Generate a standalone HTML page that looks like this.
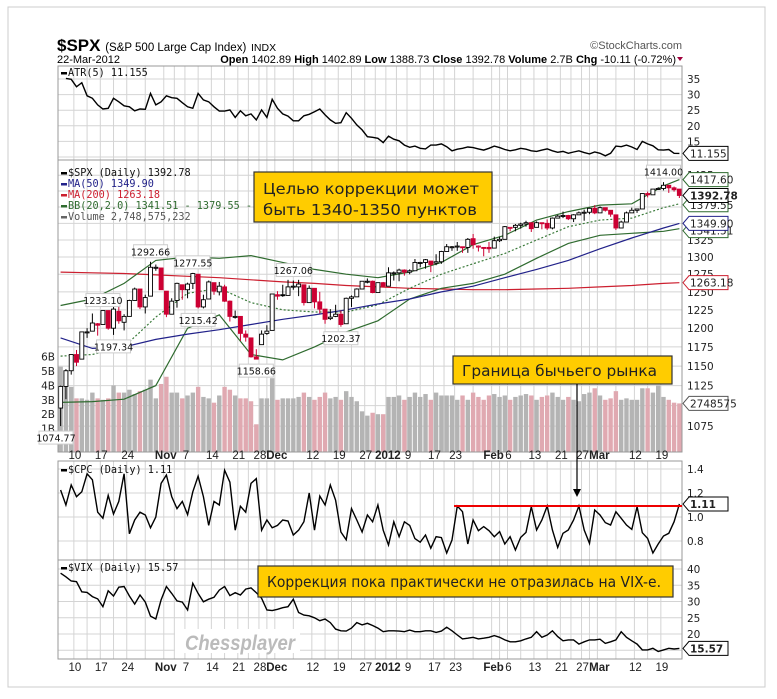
<!DOCTYPE html>
<html><head><meta charset="utf-8">
<style>
html,body{margin:0;padding:0;background:#fff;}
svg{display:block;}
.ax{font-family:"DejaVu Sans",sans-serif;font-size:10.5px;fill:#222;}
.dt{font-family:"Liberation Sans",sans-serif;font-size:11.5px;fill:#222;}
.lg{font-family:"DejaVu Sans Mono",monospace;font-size:10.2px;}
.hd{font-family:"Liberation Sans",sans-serif;}
.note{font-family:"DejaVu Sans","Liberation Sans",sans-serif;font-size:15.5px;fill:#222;}
.pk{font-family:"DejaVu Sans",sans-serif;font-size:9.5px;fill:#111;}
</style></head>
<body>
<svg id="chart" width="777" height="699" viewBox="0 0 777 699" xmlns="http://www.w3.org/2000/svg">
<rect x="8" y="7" width="757" height="680" fill="#fff" stroke="#ccc"/>
<g>
<text class="hd" x="57" y="51" font-size="17" font-weight="bold">$SPX <tspan font-size="11.5" font-weight="normal">(S&amp;P 500 Large Cap Index)</tspan> <tspan font-size="10.5" font-weight="normal">INDX</tspan></text>
<text class="hd" x="682" y="49" font-size="11" fill="#555" text-anchor="end">©StockCharts.com</text>
<text class="hd" x="57" y="63" font-size="11">22-Mar-2012</text>
<text class="hd" x="676" y="63" font-size="11" text-anchor="end"><tspan font-weight="bold">Open</tspan> 1402.89  <tspan font-weight="bold">High</tspan> 1402.89  <tspan font-weight="bold">Low</tspan> 1388.73  <tspan font-weight="bold">Close</tspan> 1392.78  <tspan font-weight="bold">Volume</tspan> 2.7B  <tspan font-weight="bold">Chg</tspan> -10.11 (-0.72%)</text>
<polygon points="677,57 683,57 680,61" fill="#a0003c"/>
</g>
<g id="grid"></g>
<g id="marks"></g>
<g id="labels"></g>
<g>
<rect x="254" y="172" width="238" height="50" fill="#ffcc00" stroke="#333" stroke-width="1.2"/>
<text class="note" x="263" y="194" textLength="216" lengthAdjust="spacingAndGlyphs">Целью коррекции может</text>
<text class="note" x="263" y="215" textLength="214" lengthAdjust="spacingAndGlyphs">быть 1340-1350 пунктов</text>
<rect x="453" y="356" width="219" height="28" fill="#ffcc00" stroke="#333" stroke-width="1.2"/>
<text class="note" x="462" y="376" textLength="195" lengthAdjust="spacingAndGlyphs">Граница бычьего рынка</text>
<line x1="577" y1="384" x2="577" y2="490" stroke="#000" stroke-width="1.2"/>
<polygon points="573,489 581,489 577,497" fill="#000"/>
<line x1="454" y1="506" x2="682" y2="506" stroke="#e00" stroke-width="2"/>
<rect x="258" y="566" width="415" height="31" fill="#ffcc00" stroke="#333" stroke-width="1.2"/>
<text class="note" x="267" y="587" textLength="394" lengthAdjust="spacingAndGlyphs">Коррекция пока практически не отразилась на VIX-е.</text>
<rect x="175" y="629" width="125" height="24" fill="#fff"/>
<text x="185" y="650" font-family="Liberation Sans,sans-serif" font-size="21" font-weight="bold" font-style="italic" fill="#bbb" textLength="110" lengthAdjust="spacingAndGlyphs">Chessplayer</text>
</g>
</svg>
<script>
// ---------- data ----------
const tickIdx = [3,8,13,20,24,29,34,38,41,48,53,58,62,66,71,75,82,85,90,95,99,102,109,114];
const tickLabels = ["10","17","24","Nov","7","14","21","28","Dec","12","19","27","2012","9","17","23","Feb","6","13","21","27","Mar","12","19"];
const tickBold = [0,0,0,1,0,0,0,0,1,0,0,0,1,0,0,0,1,0,0,0,0,1,0,0];
const opens = [1097,1124,1144,1165,1159,1194,1196,1206,1205,1224,1200,1223,1208,1216,1238,1254,1229,1244,1284,1284,1251,1219,1238,1260,1253,1262,1275,1229,1240,1263,1250,1257,1237,1216,1216,1192,1187,1162,1178,1193,1197,1246,1246,1245,1257,1257,1260,1235,1255,1236,1226,1213,1216,1219,1206,1241,1243,1254,1265,1265,1249,1263,1258,1277,1277,1281,1278,1280,1292,1292,1294,1291,1293,1308,1315,1315,1315,1314,1327,1316,1314,1314,1313,1324,1326,1344,1344,1347,1349,1351,1344,1351,1350,1343,1358,1361,1362,1357,1363,1366,1367,1373,1366,1374,1370,1363,1343,1352,1366,1370,1372,1396,1394,1403,1404,1409,1405,1403];
const highs = [1125,1146,1165,1171,1195,1200,1220,1207,1224,1224,1233,1229,1219,1239,1256,1254,1246,1293,1289,1284,1251,1241,1263,1260,1263,1277,1275,1246,1266,1263,1264,1260,1238,1224,1216,1197,1187,1172,1197,1204,1247,1251,1260,1267,1266,1267,1260,1259,1255,1250,1226,1226,1232,1224,1242,1245,1255,1265,1269,1266,1263,1264,1285,1279,1283,1282,1282,1297,1293,1297,1294,1304,1309,1319,1316,1322,1315,1328,1334,1317,1314,1322,1330,1330,1346,1344,1349,1351,1354,1351,1353,1351,1356,1359,1363,1368,1363,1364,1368,1371,1374,1378,1376,1374,1370,1363,1354,1368,1374,1372,1396,1399,1403,1406,1414,1409,1407,1403];
const lows = [1075,1108,1139,1150,1159,1187,1196,1190,1205,1198,1191,1206,1197,1216,1238,1226,1220,1244,1280,1253,1215,1219,1228,1239,1241,1254,1227,1227,1240,1246,1245,1236,1209,1213,1183,1182,1161,1159,1178,1191,1197,1239,1243,1245,1253,1244,1231,1235,1227,1220,1206,1211,1215,1202,1206,1229,1243,1254,1262,1248,1249,1257,1258,1266,1265,1273,1275,1280,1285,1283,1278,1288,1290,1308,1309,1309,1306,1306,1312,1308,1301,1306,1313,1322,1326,1338,1338,1342,1345,1337,1344,1341,1340,1341,1358,1358,1355,1352,1363,1354,1364,1364,1366,1368,1360,1340,1343,1352,1366,1366,1372,1390,1394,1402,1401,1397,1399,1389];
const closes = [1124,1144,1165,1155,1195,1195,1207,1204,1224,1200,1226,1210,1216,1238,1254,1229,1242,1285,1285,1253,1219,1237,1262,1253,1261,1276,1229,1239,1264,1251,1258,1237,1216,1216,1193,1188,1162,1159,1192,1196,1247,1244,1245,1257,1258,1261,1235,1255,1236,1226,1212,1215,1219,1205,1241,1243,1254,1265,1265,1249,1263,1258,1277,1277,1281,1278,1280,1292,1292,1296,1289,1293,1308,1315,1315,1316,1314,1326,1318,1316,1313,1312,1324,1326,1345,1344,1347,1349,1351,1342,1351,1350,1343,1358,1361,1362,1357,1363,1366,1367,1373,1366,1374,1370,1364,1343,1352,1366,1370,1372,1396,1394,1403,1404,1409,1405,1402,1393];
const volumes = [5.3,4.0,3.9,3.1,3.1,3.0,3.5,3.1,3.0,3.1,4.0,3.5,3.5,3.7,3.4,3.6,3.7,4.4,3.1,4.1,4.6,3.5,3.5,3.1,3.3,3.5,3.9,3.2,3.1,2.8,3.3,3.9,3.7,3.3,3.1,3.1,2.9,1.3,3.1,3.1,4.5,3.0,3.1,3.1,3.1,3.2,3.5,3.2,3.0,3.2,3.5,3.1,3.2,3.0,3.6,3.2,2.9,2.2,1.9,2.1,2.0,2.0,3.2,3.2,3.3,3.0,3.2,3.5,3.2,3.4,3.0,3.5,3.3,3.3,3.3,3.0,3.3,3.0,3.5,3.2,3.0,3.3,3.4,3.2,3.3,3.0,3.2,3.3,3.4,3.3,3.0,3.2,3.3,3.5,3.2,3.0,3.2,3.0,2.9,3.4,3.5,3.8,3.3,3.0,3.1,3.6,3.0,3.1,3.0,3.0,3.8,3.8,3.5,4.0,3.2,3.0,2.8,2.75];
const ovIdx = [0,6,12,18,24,30,36,42,48,54,60,66,72,78,84,90,96,102,108,114,117];
const ma50 = [1187,1173,1175,1185,1192,1198,1205,1212,1218,1225,1233,1240,1250,1258,1270,1282,1295,1312,1328,1343,1350];
const ma200 = [1278,1277,1276,1274,1272,1270,1267,1264,1262,1259,1257,1255,1254,1253,1253,1254,1255,1257,1259,1262,1263];
const bbUp = [1231,1240,1262,1295,1300,1298,1302,1292,1282,1275,1270,1278,1292,1318,1332,1355,1368,1378,1380,1408,1418];
const bbMid = [1163,1165,1175,1215,1248,1255,1235,1225,1222,1222,1232,1255,1275,1290,1305,1325,1345,1355,1358,1374,1380];
const bbLow = [1104,1105,1108,1125,1200,1218,1165,1158,1175,1195,1210,1240,1255,1262,1275,1298,1320,1332,1335,1338,1342];
const atr = [null,35.2,34.9,32.5,33.8,29.6,28.8,26.7,25.4,25.6,28.8,27.7,26.4,26.1,24.8,25.4,25.3,30.4,26.7,27.7,29.6,29.0,28.8,27.4,26.1,25.6,30.4,28.3,27.7,26.1,24.7,24.7,25.1,22.7,24.8,23.2,23.8,21.9,25.1,22.7,28.5,25.6,23.8,23.1,21.6,21.6,23.2,23.7,24.5,25.4,23.5,21.9,20.8,21.0,24.2,22.4,20.3,18.7,16.5,16.3,16.0,14.6,16.7,15.7,15.2,13.8,13.1,13.5,12.8,12.6,13.8,13.8,14.2,13.3,12.0,12.5,12.8,13.2,13.0,12.6,12.2,12.8,13.5,13.0,12.4,12.0,12.3,12.8,12.5,12.0,11.8,12.2,12.6,12.0,11.5,11.8,11.2,11.6,12.0,11.4,11.0,11.6,11.2,10.4,11.2,13.5,13.3,13.8,13.2,12.4,15.0,14.2,13.6,12.3,12.2,12.4,11.2,11.155];
const cpc = [1.225,1.10,1.267,1.169,1.21,1.36,1.31,1.04,0.99,1.18,1.025,1.13,1.36,0.86,0.975,1.04,1.017,0.91,1.0,1.28,1.35,1.17,1.07,1.13,1.02,1.21,1.34,1.17,0.93,1.13,1.10,1.39,1.29,0.89,1.09,1.04,1.28,1.32,0.89,0.975,0.91,0.93,0.975,0.967,0.85,0.89,0.96,1.2,0.89,1.175,1.10,1.267,1.14,0.875,0.81,1.07,0.975,0.875,1.017,0.96,1.10,0.89,0.767,0.96,0.836,0.96,0.93,0.82,0.79,0.85,0.74,0.836,0.828,0.70,0.808,1.092,1.044,0.775,0.975,0.886,0.92,0.886,0.836,0.878,0.775,0.836,0.725,0.83,0.872,1.086,0.892,0.975,1.092,0.892,0.747,0.864,0.892,0.975,1.092,0.892,0.78,1.058,1.017,0.953,0.933,1.044,0.989,0.933,0.897,1.086,0.869,0.822,0.70,0.775,0.842,0.864,0.961,1.108];
const vix = [38.7,37.6,36.3,36.1,33.0,32.8,31.5,30.8,28.4,33.3,31.7,34.4,34.6,31.7,29.2,32.0,29.8,25.5,24.6,30.5,34.6,32.5,30.2,29.8,27.4,35.6,32.5,29.9,30.7,31.3,33.5,34.6,31.8,32.7,32.0,33.8,34.2,32.7,31.0,27.4,27.2,27.6,28.1,28.4,30.7,26.6,25.8,25.6,25.0,24.1,24.6,23.5,21.5,21.0,20.9,21.8,23.5,22.8,23.3,22.6,21.8,20.7,21.0,21.0,20.9,20.7,21.2,20.7,20.7,21.0,21.0,20.5,20.9,22.1,21.0,19.7,18.5,18.7,19.0,18.5,18.7,19.0,19.5,19.0,18.2,17.6,17.6,17.9,18.5,19.0,20.7,19.0,19.7,21.0,19.2,17.9,18.2,18.2,16.9,17.6,18.2,18.2,18.4,17.1,17.6,18.2,20.7,19.0,17.9,16.9,15.1,15.1,15.6,14.6,15.1,15.6,15.4,15.57];
const priceTicks = [1075,1125,1150,1175,1200,1225,1250,1275,1300,1325,1425];
const priceGrid = [1075,1100,1125,1150,1175,1200,1225,1250,1275,1300,1325,1350,1375,1400,1425];
const atrTicks = [35,30,25,20,15];
const cpcTicks = [1.4,1.2,1.0,0.8];
const vixTicks = [40,35,30,25,20];
const volTicks = [1,2,3,4,5,6];
const peaks = [[17,"1292.66","h"],[25,"1277.55","h"],[8,"1233.10","h"],[26,"1215.42","l"],[10,"1197.34","l"],[37,"1158.66","l"],[44,"1267.06","h"],[53,"1202.37","l"],[114,"1414.00","h"],[0,"1074.77","l"]];

// ---------- scales ----------
const L=58,R=682,N=closes.length;
const P={atr:[66,160],price:[160,452],cpc:[461,560],vix:[560,659]};
const x=i=>L+(i+0.5)*(R-L)/N;
const yP=p=>240+890*Math.log(1325/p);
const yA=v=>79+(35-v)*3.12;
const yC=v=>517-(v-1)*120;
const yV=v=>569+(40-v)*3.25;
const yVol=v=>443-v*14.4;
const NS="http://www.w3.org/2000/svg";
function mk(tag,attrs,parent){const e=document.createElementNS(NS,tag);for(const k in attrs)e.setAttribute(k,attrs[k]);parent.appendChild(e);return e;}
const grid=document.getElementById('grid'),marks=document.getElementById('marks'),labels=document.getElementById('labels');
const svg=document.getElementById('chart');

const defs=mk('defs',{},svg);
for(const k in P){const c=mk('clipPath',{id:'clip-'+k},defs);mk('rect',{x:L,y:P[k][0],width:R-L,height:P[k][1]-P[k][0]},c);}

for(const k in P){
  const r=mk('rect',{x:L,y:P[k][0],width:R-L,height:P[k][1]-P[k][0],fill:'#fff',stroke:'none'},grid);
  
  
  const vs=[];
  tickIdx.forEach((t,j)=>{vs.push(t);if(j<tickIdx.length-1)vs.push((t+tickIdx[j+1])/2);});
  vs.forEach(t=>{const gx=L+(t)*(R-L)/N;const ln=mk('line',{x1:gx,x2:gx,y1:P[k][0],y2:P[k][1],stroke:'#d4d4d4','stroke-width':1},grid);
    
    });
}
function hgrid(vals,fy,k){vals.forEach(v=>{const yy=fy(v);if(yy<P[k][0]||yy>P[k][1])return;const ln=mk('line',{x1:L,x2:R,y1:yy,y2:yy,stroke:'#d4d4d4'},grid);
  
  });}
hgrid(priceGrid,yP,'price');hgrid([35,30,25,20,15,10],yA,'atr');hgrid([1.4,1.2,1.0,0.8],yC,'cpc');hgrid([40,35,30,25,20,15],yV,'vix');

// ---------- volume ----------
const gVol=mk('g',{'clip-path':'url(#clip-price)'},marks);


volumes.forEach((v,i)=>{const down=i>0&&closes[i]<closes[i-1];const t=yVol(v);
  const b=mk('rect',{x:x(i)-2.2,y:t,width:4.4,height:452-t,fill:down?'#e0a9b1':'#b4b4b4'},gVol);
  
  });

// ---------- overlays ----------
function ovPath(arr,color,dash,name){let d='';arr.forEach((v,j)=>{d+=(j?'L':'M')+x(ovIdx[j]).toFixed(1)+','+yP(v).toFixed(1);});
  const p=mk('path',{d:d,fill:'none',stroke:color,'stroke-width':1.2,'clip-path':'url(#clip-price)'},marks);if(dash)p.setAttribute('stroke-dasharray',dash);
  
  }
ovPath(ma200,'#cc1f2f',null,'ma200-line');
ovPath(bbUp,'#2f6b2f',null,'bb-upper-line');
ovPath(bbLow,'#2f6b2f',null,'bb-lower-line');
ovPath(bbMid,'#3a7a3a','2,2','bb-middle-line');
ovPath(ma50,'#22228a',null,'ma50-line');

// ---------- candles ----------
const gC=mk('g',{'clip-path':'url(#clip-price)'},marks);


closes.forEach((c,i)=>{const o=opens[i];const down=i>0&&c<closes[i-1];const col=down?'#cc0033':'#000';
  const cx=x(i);
  const w=mk('line',{x1:cx,x2:cx,y1:yP(highs[i]),y2:yP(lows[i]),stroke:col,'stroke-width':1},gC);
  
  
  const top=yP(Math.max(o,c)),bot=yP(Math.min(o,c));
  const b=mk('rect',{x:cx-2,y:top,width:4,height:Math.max(1,bot-top),fill:c>=o?'#fff':col,stroke:col,'stroke-width':0.9},gC);
  
  });

// ---------- lines ----------
function line(arr,fy,k,name){let d='',st=false;arr.forEach((v,i)=>{if(v==null)return;d+=(st?'L':'M')+x(i).toFixed(1)+','+fy(v).toFixed(1);st=true;});
  const p=mk('path',{d:d,fill:'none',stroke:'#000','stroke-width':1.4,'clip-path':'url(#clip-'+k+')'},marks);
  
  }
line(atr,yA,'atr','atr-line');line(cpc,yC,'cpc','cpc-line');line(vix,yV,'vix','vix-line');

for(const k in P){const r=mk('rect',{x:L,y:P[k][0],width:R-L,height:P[k][1]-P[k][0],fill:'none',stroke:'#999'},marks);
  
  }

// ---------- axis labels ----------
function rticks(vals,fy,fmt,name){vals.forEach(v=>{const t=mk('text',{x:R+5,y:fy(v)+4,class:'ax'},labels);t.textContent=fmt(v);
  
  });}
rticks(priceTicks,yP,v=>String(v),'price-tick-label');
rticks(atrTicks,yA,v=>String(v),'atr-tick-label');
rticks(cpcTicks,yC,v=>v.toFixed(1),'cpc-tick-label');
rticks(vixTicks,yV,v=>String(v),'vix-tick-label');
volTicks.forEach(v=>{const t=mk('text',{x:55,y:yVol(v)+4,class:'ax','text-anchor':'end'},labels);t.textContent=v+'B';
  
  });
[459,671].forEach((yy,row)=>{tickIdx.forEach((t,j)=>{const tx=mk('text',{x:L+t*(R-L)/N+(tickBold[j]?2:1),y:yy,class:'dt','text-anchor':'middle','font-weight':tickBold[j]?'bold':'normal'},labels);
  tx.textContent=tickLabels[j];
  
  });});

function tag(yy,txt,col,bold,name){const g=mk('g',{},labels);
  
  
  mk('polygon',{points:`${R+1},${yy} ${R+7},${yy-7} ${R+46},${yy-7} ${R+46},${yy+7} ${R+7},${yy+7}`,fill:'#fff',stroke:col},g);
  const t=mk('text',{x:R+8,y:yy+4,class:'ax','font-weight':bold?'bold':'normal',fill:'#111'},g);t.textContent=txt;}
tag(yP(bbLow[bbLow.length-1])+2,'1341.51','#2f6b2f',false,'bb-lower-tag');
tag(yP(ma50[ma50.length-1]),'1349.90','#22228a',false,'ma50-tag');
tag(yP(bbMid[bbMid.length-1])+1,'1379.55','#2f6b2f',false,'bb-middle-tag');
tag(yP(bbUp[bbUp.length-1]),'1417.60','#2f6b2f',false,'bb-upper-tag');
tag(yP(closes[N-1]),'1392.78','#000',true,'close-tag');
tag(yP(ma200[ma200.length-1]),'1263.18','#cc1f2f',false,'ma200-tag');
tag(yVol(volumes[N-1]),'2748575','#555',false,'volume-tag');
tag(yA(atr[N-1]),'11.155','#000',false,'atr-tag');
tag(yC(cpc[N-1]),'1.11','#000',true,'cpc-tag');
tag(yV(vix[N-1]),'15.57','#000',true,'vix-tag');

peaks.forEach(pk=>{const i=pk[0];const yy=pk[2]=='h'?yP(highs[i])-10:yP(lows[i])+12;const g=mk('g',{},labels);
  
  
  const cx=i==0?56:x(i);
  mk('rect',{x:cx-17,y:yy-7,width:34,height:13,fill:'#fff',stroke:'#ccc'},g);
  const t=mk('text',{x:cx,y:yy+3.5,class:'pk','text-anchor':'middle'},g);t.textContent=pk[1];});

function leg(yy,parts,name,sw){const g=mk('g',{},labels);
  
  
  if(sw)mk('rect',{x:61,y:yy-4,width:6,height:2.5,fill:sw},g);
  const t=mk('text',{x:68,y:yy,class:'lg',fill:parts[1]},g);t.textContent=parts[0];}
leg(76,['ATR(5) 11.155','#111'],'atr-legend','#000');
leg(176,['$SPX (Daily) 1392.78','#111'],'price-legend','#000');
leg(187,['MA(50) 1349.90','#22228a'],'ma50-legend','#22228a');
leg(198,['MA(200) 1263.18','#cc1f2f'],'ma200-legend','#cc1f2f');
leg(209,['BB(20,2.0) 1341.51 - 1379.55 - 1417.60','#2f6b2f'],'bb-legend','#2f6b2f');
leg(220,['Volume 2,748,575,232','#555'],'volume-legend','#666');
leg(473,['$CPC (Daily) 1.11','#111'],'cpc-legend','#000');
leg(571,['$VIX (Daily) 15.57','#111'],'vix-legend','#000');
</script>
</body></html>
